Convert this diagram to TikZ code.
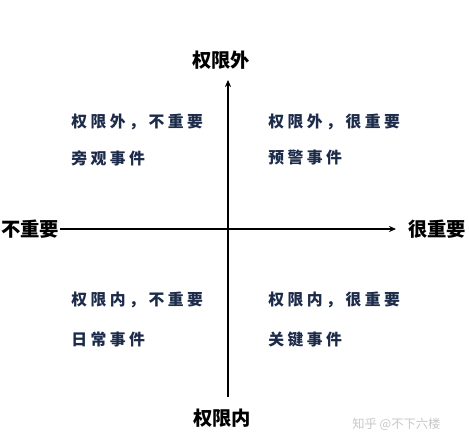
\documentclass[tikz,border=0pt]{standalone}
\usepackage{fontspec}
\usetikzlibrary{arrows.meta}
\newfontfamily\cjk{Noto Sans CJK SC}
\newfontfamily\cjksp[LetterSpace=22]{Noto Sans CJK SC}
\definecolor{navy}{HTML}{1C2B4A}
\definecolor{wm}{HTML}{C8C8C8}
\begin{document}
\begin{tikzpicture}[x=0.02cm,y=-0.02cm,
  axislabel/.style={font=\cjk\bfseries\fontsize{11}{13}\selectfont, inner sep=0pt},
  quad/.style={font=\cjksp\bfseries\fontsize{9}{11}\selectfont, text=navy, anchor=west, inner sep=0pt},
  axis/.style={line width=0.6pt, -{Stealth[length=4pt,width=3.5pt]}}]
\useasboundingbox (0,0) rectangle (469,439);
\fill[white] (0,0) rectangle (469,439);
\coordinate (vb) at (228,397);
\coordinate (vt) at (228,80);
\coordinate (hl) at (60,229);
\coordinate (hr) at (396,229);
\draw[axis] (vb) -- (vt);
\draw[axis] (hl) -- (hr);
\node[axislabel] (top) at (221,60) {权限外};
\node[axislabel] (bot) at (222,418) {权限内};
\node[axislabel] (left) at (30,229) {不重要};
\node[axislabel] (right) at (437,229) {很重要};
\node[quad] (q1a) at (71,122) {权限外，不重要};
\node[quad] (q1b) at (71,158) {旁观事件};
\node[quad] (q2a) at (268,122) {权限外，很重要};
\node[quad] (q2b) at (268,158) {预警事件};
\node[quad] (q3a) at (71,300) {权限内，不重要};
\node[quad] (q3b) at (71,340) {日常事件};
\node[quad] (q4a) at (268,300) {权限内，很重要};
\node[quad] (q4b) at (268,340) {关键事件};
\node[font=\cjk\fontsize{7}{8}\selectfont, text=wm, anchor=west, inner sep=0pt] (wmk) at (352,424) {知乎 @不下六楼};
\end{tikzpicture}
\end{document}
